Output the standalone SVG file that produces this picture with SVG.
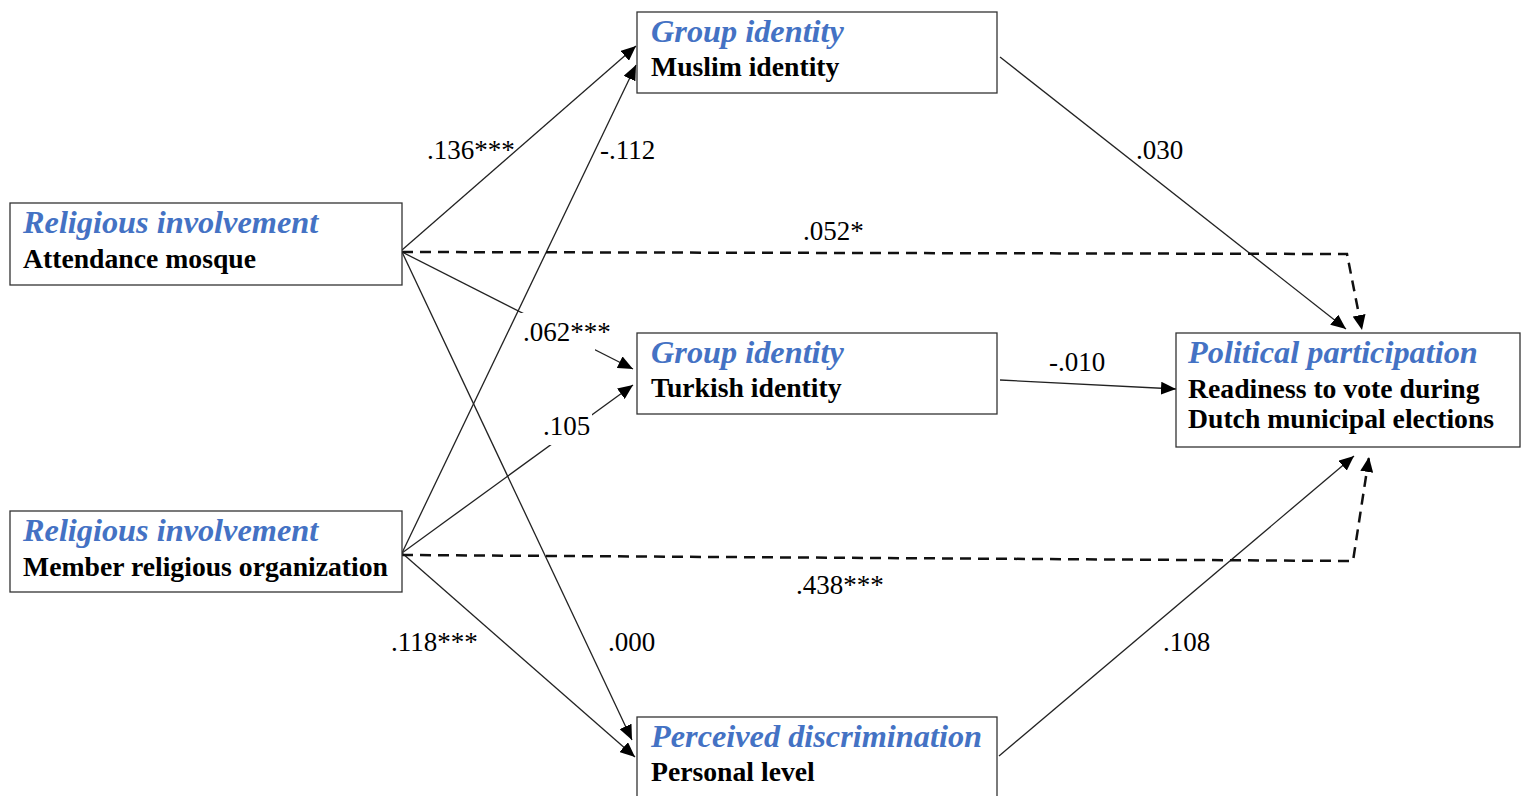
<svg xmlns="http://www.w3.org/2000/svg" width="1521" height="796" viewBox="0 0 1521 796">
<style>
.box{fill:#fff;stroke:#333;stroke-width:1.3}
.t1{font-family:"Liberation Serif",serif;font-weight:bold;font-style:italic;font-size:32.3px;fill:#4472C4}
.t2{font-family:"Liberation Serif",serif;font-weight:bold;font-size:27.7px;fill:#000}
.lbl{font-family:"Liberation Serif",serif;font-size:27px;fill:#000}
.ln{fill:none;stroke:#222;stroke-width:1.3}
.dash{fill:none;stroke:#111;stroke-width:2.5;stroke-dasharray:11,7}
</style>
<defs>
<marker id="ah" markerUnits="userSpaceOnUse" markerWidth="16" markerHeight="13" refX="15" refY="6.5" orient="auto">
<path d="M0,0 L15,6.5 L0,13 z" fill="#000"/>
</marker>
</defs>
<rect width="1521" height="796" fill="#fff"/>
<g id="connectors">
<line class="ln" x1="402" y1="250" x2="636" y2="46" marker-end="url(#ah)"/>
<line class="ln" x1="402" y1="553" x2="636" y2="65" marker-end="url(#ah)"/>
<line class="ln" x1="402" y1="252" x2="633" y2="369" marker-end="url(#ah)"/>
<line class="ln" x1="402" y1="553" x2="633" y2="385" marker-end="url(#ah)"/>
<line class="ln" x1="402" y1="252" x2="632" y2="740" marker-end="url(#ah)"/>
<line class="ln" x1="402" y1="553" x2="635" y2="757" marker-end="url(#ah)"/>
<line class="ln" x1="1000" y1="57" x2="1346" y2="329" marker-end="url(#ah)"/>
<line class="ln" x1="1000" y1="380" x2="1176" y2="389" marker-end="url(#ah)"/>
<line class="ln" x1="999" y1="756" x2="1354" y2="456" marker-end="url(#ah)"/>
<polyline class="dash" points="402,252 1347,254 1362,330" marker-end="url(#ah)"/>
<polyline class="dash" points="402,555 1353,561 1369,457" marker-end="url(#ah)"/>
<rect x="520" y="313" width="75" height="38" fill="#fff"/>
<rect x="540" y="410" width="52" height="35" fill="#fff"/>
<text class="lbl" x="427" y="159">.136***</text>
<text class="lbl" x="600" y="159">-.112</text>
<text class="lbl" x="1136" y="159">.030</text>
<text class="lbl" x="803" y="240">.052*</text>
<text class="lbl" x="523" y="341">.062***</text>
<text class="lbl" x="1049" y="371">-.010</text>
<text class="lbl" x="543" y="435">.105</text>
<text class="lbl" x="796" y="594">.438***</text>
<text class="lbl" x="391" y="651">.118***</text>
<text class="lbl" x="608" y="651">.000</text>
<text class="lbl" x="1163" y="651">.108</text>
</g>
<g id="ri1">
<rect class="box" x="10" y="203" width="392" height="82"/>
<text class="t1" x="23" y="233">Religious involvement</text>
<text class="t2" x="23" y="268">Attendance mosque</text>
</g>
<g id="ri2">
<rect class="box" x="10" y="511" width="392" height="81"/>
<text class="t1" x="23" y="541">Religious involvement</text>
<text class="t2" x="23" y="576">Member religious organization</text>
</g>
<g id="gi-muslim">
<rect class="box" x="637" y="12" width="360" height="81"/>
<text class="t1" x="651" y="42">Group identity</text>
<text class="t2" x="651" y="76">Muslim identity</text>
</g>
<g id="gi-turkish">
<rect class="box" x="637" y="333" width="360" height="81"/>
<text class="t1" x="651" y="363">Group identity</text>
<text class="t2" x="651" y="397">Turkish identity</text>
</g>
<g id="pd">
<rect class="box" x="637" y="717" width="360" height="100"/>
<text class="t1" x="651" y="747">Perceived discrimination</text>
<text class="t2" x="651" y="781">Personal level</text>
</g>
<g id="pp">
<rect class="box" x="1176" y="333" width="344" height="114"/>
<text class="t1" x="1188" y="363">Political participation</text>
<text class="t2" x="1188" y="398">Readiness to vote during</text>
<text class="t2" x="1188" y="428">Dutch municipal elections</text>
</g>
</svg>
